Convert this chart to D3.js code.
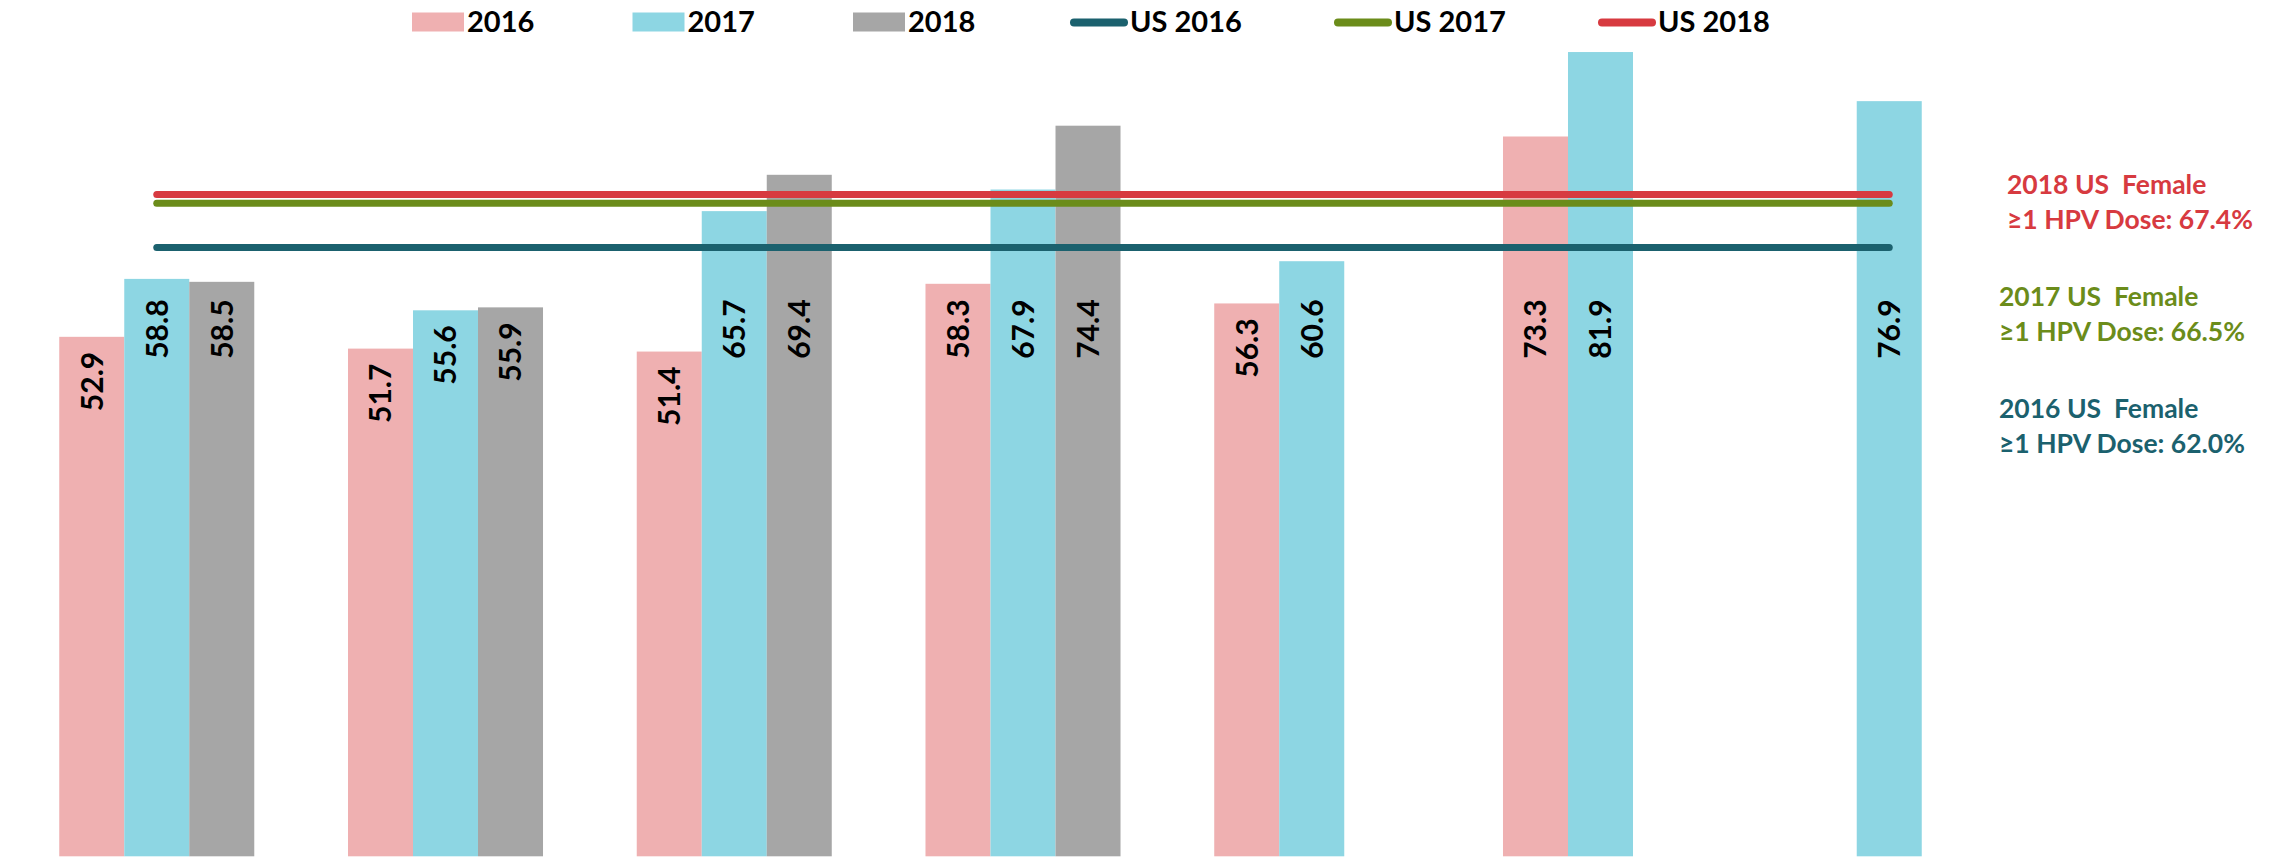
<!DOCTYPE html>
<html>
<head>
<meta charset="utf-8">
<script src="https://cdn.jsdelivr.net/npm/d3@7"></script>
<style>
  body { margin: 0; background: #fff; }
  svg { display: block; font-family: Lato, "Open Sans", sans-serif; }
</style>
</head>
<body>
<svg id="canvas"></svg>
<script>
// categories (their axis labels sit below the visible area)
let categories = ["Group 1", "Group 2", "Group 3", "Group 4", "Group 5", "Group 6", "Group 7"];
let years = ["2016", "2017", "2018"];

let values2016 = [52.9, 51.7, 51.4, 58.3, 56.3, 73.3, null];
let values2017 = [58.8, 55.6, 65.7, 67.9, 60.6, 81.9, 76.9];
let values2018 = [58.5, 55.9, 69.4, 74.4, null, null, null];

let usYears = ["US 2016", "US 2017", "US 2018"];
let usValues = [62.0, 66.5, 67.4];
let usNotes = [
  ["2016 US  Female", "\u22651 HPV Dose: 62.0%"],
  ["2017 US  Female", "\u22651 HPV Dose: 66.5%"],
  ["2018 US  Female", "\u22651 HPV Dose: 67.4%"],
];

let barColors = ["#EFB0B1", "#8DD6E3", "#A6A6A6"];
let lineColors = ["#1B616E", "#6B8C1A", "#D73A40"];

let width = 2280,
  height = 857;

let canvas = d3.select("#canvas").attr("width", width).attr("height", height);

let series = [values2016, values2017, values2018];
let rows = [];
categories.forEach((c, i) => {
  years.forEach((y, j) => {
    if (series[j][i] != null) rows.push({ cat: c, year: y, value: series[j][i], k: j });
  });
});

let xScale = d3
  .scaleBand()
  .domain(categories)
  .range([1.5, 2044.5])
  .paddingInner(0.3246)
  .paddingOuter(0.2);

let subScale = d3.scaleBand().domain(years).range([0, xScale.bandwidth()]);

let yScale = d3.scaleLinear().domain([0, 87.2]).range([856.3, 0]);

// bars
canvas
  .append("g")
  .selectAll("rect")
  .data(rows)
  .enter()
  .append("rect")
  .attr("x", (d) => xScale(d.cat) + subScale(d.year))
  .attr("y", (d) => yScale(d.value))
  .attr("width", subScale.bandwidth())
  .attr("height", (d) => yScale(0) - yScale(d.value))
  .attr("fill", (d) => barColors[d.k]);

// value labels, rotated inside the bar; tall bars get their label
// pushed below the US lines
let labelTopLimit = yScale(usValues[0]) + 52;

canvas
  .append("g")
  .selectAll("text")
  .data(rows)
  .enter()
  .append("text")
  .attr("transform", (d) => {
    let cx = xScale(d.cat) + subScale(d.year) + subScale.bandwidth() / 2;
    let top = Math.max(yScale(d.value) + 15, labelTopLimit);
    return "translate(" + cx + "," + top + ") rotate(-90)";
  })
  .attr("text-anchor", "end")
  .attr("dy", "0.36em")
  .attr("font-size", 30)
  .attr("font-weight", "bold")
  .attr("fill", "#000")
  .text((d) => d.value.toFixed(1));

// US reference lines, from the first to the last 2017 bar centre
let lineStart = xScale(categories[0]) + subScale("2017") + subScale.bandwidth() / 2;
let lineEnd = xScale(categories[categories.length - 1]) + subScale("2017") + subScale.bandwidth() / 2;

canvas
  .append("g")
  .selectAll("line")
  .data(usValues)
  .enter()
  .append("line")
  .attr("x1", lineStart)
  .attr("x2", lineEnd)
  .attr("y1", (d) => yScale(d))
  .attr("y2", (d) => yScale(d))
  .attr("stroke", (d, i) => lineColors[i])
  .attr("stroke-width", 7)
  .attr("stroke-linecap", "round");

// notes at the right
let notes = canvas.append("g");
[2, 1, 0].forEach((i, n) => {
  let t = notes
    .append("text")
    .attr("x", i == 2 ? 2007 : 1999)
    .attr("y", 194 + n * 112)
    .attr("font-size", 26.5)
    .attr("font-weight", "bold")
    .attr("fill", lineColors[i])
    .attr("xml:space", "preserve");
  t.append("tspan").text(usNotes[i][0]);
  t.append("tspan").attr("x", i == 2 ? 2007 : 1999).attr("dy", 35).text(usNotes[i][1]);
});

// legend
let legend = canvas.append("g");
years.forEach((y, i) => {
  let lx = 412 + i * 220.5;
  legend.append("rect").attr("x", lx).attr("y", 12.5).attr("width", 52).attr("height", 19).attr("fill", barColors[i]);
  legend
    .append("text")
    .attr("x", lx + 55)
    .attr("y", 31.5)
    .attr("font-size", 29)
    .attr("font-weight", "bold")
    .text(y);
});
usYears.forEach((y, i) => {
  let lx = 1070 + i * 264;
  legend
    .append("line")
    .attr("x1", lx + 4)
    .attr("x2", lx + 54)
    .attr("y1", 22.5)
    .attr("y2", 22.5)
    .attr("stroke", lineColors[i])
    .attr("stroke-width", 8)
    .attr("stroke-linecap", "round");
  legend
    .append("text")
    .attr("x", lx + 60)
    .attr("y", 31.5)
    .attr("font-size", 29)
    .attr("font-weight", "bold")
    .text(y);
});
</script>
</body>
</html>
